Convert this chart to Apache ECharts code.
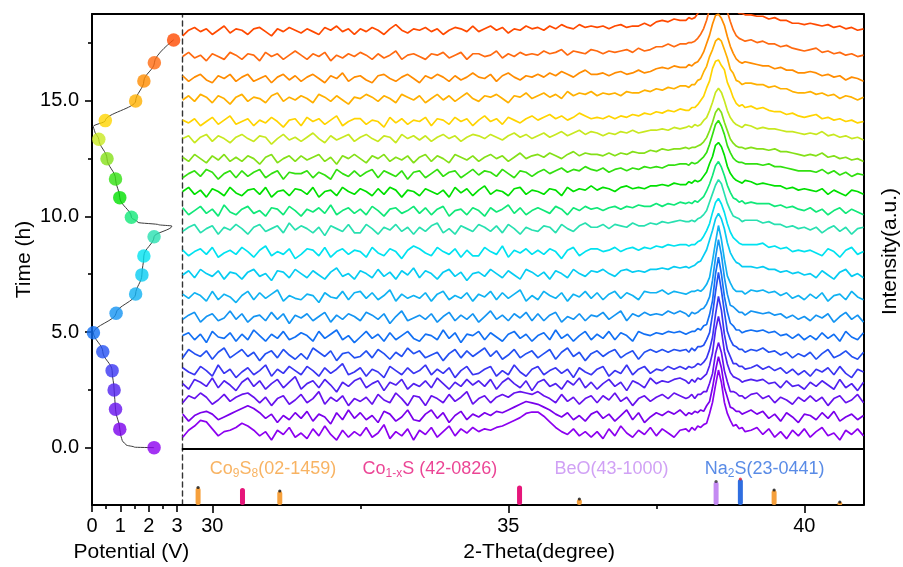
<!DOCTYPE html>
<html>
<head>
<meta charset="utf-8">
<script src="https://cdn.jsdelivr.net/npm/echarts@6/dist/echarts.min.js"></script>
<style>
  html, body { margin: 0; padding: 0; background: #ffffff; }
  #chart { width: 903px; height: 567px; }
</style>
</head>
<body>
<div id="chart"></div>
<script>
const FONT = 'Liberation Sans, Arial, Helvetica, sans-serif';

// Galvanostatic potential trace (V vs. time in h)
const traceTime = [0, 0.02, 0.12, 0.3, 0.5, 0.8, 1.66, 2.49, 3.33, 4.15, 4.97, 5.81, 6.64, 7.47, 8.29, 9.12, 9.58, 9.64, 9.74, 9.96, 10.81, 11.62, 12.49, 13.33, 13.7, 13.88, 14.14, 14.99, 15.85, 16.64, 17.63];
const tracePotential = [2.19, 1.5, 1.2, 1.07, 1.02, 0.98, 0.83, 0.78, 0.71, 0.38, 0.05, 0.85, 1.54, 1.76, 1.83, 2.19, 2.82, 2.35, 1.62, 1.39, 0.98, 0.83, 0.53, 0.24, 0.09, 0.04, 0.47, 1.54, 1.83, 2.2, 2.88];

// State of the cell when each XRD pattern was collected
const scanTime = [0, 0.80, 1.66, 2.49, 3.33, 4.15, 4.97, 5.81, 6.64, 7.47, 8.29, 9.12, 9.96, 10.81, 11.62, 12.49, 13.33, 14.14, 14.99, 15.85, 16.64, 17.63];
const scanPotential = [2.19, 0.98, 0.83, 0.78, 0.71, 0.38, 0.05, 0.85, 1.54, 1.76, 1.83, 2.19, 1.39, 0.98, 0.83, 0.53, 0.24, 0.47, 1.54, 1.83, 2.20, 2.88];
const scanColors = ['#8c00f0', '#7a00ec', '#6612ee', '#5020f0', '#3a34f2', '#2450f2', '#1270f4', '#1494f2', '#10b2f2', '#06ccf2', '#00e2f0', '#28e0b0', '#10e878', '#00e000', '#32e010', '#84e018', '#c8e820', '#ffd400', '#ffb000', '#ff8c00', '#ff6a10', '#ff4a00'];

// Stacking offset of each pattern (a.u.)
const scanOffset = [11.4, 22.9, 35, 45.7, 55, 67.1, 80, 93.6, 108.6, 124.3, 140, 156.4, 169.3, 182.9, 195.7, 206.4, 220.7, 232.9, 249.3, 263.6, 279.3, 297.1];

// 2-theta sampling: 0.1 deg steps, 0.05 deg steps across the 38-39 deg reflection
const thetaGrid = [];
for (let k = 0; k < 85; k++) thetaGrid.push(+(29.5 + 0.1 * k).toFixed(2));
for (let k = 0; k <= 20; k++) thetaGrid.push(+(38 + 0.05 * k).toFixed(2));
for (let k = 1; k <= 20; k++) thetaGrid.push(+(39 + 0.1 * k).toFixed(2));

// Background-subtracted intensities, rows: 29.5-37.9 | 38.00-39.00 | 39.1-41.0
const scan01 = [
  -3, 2, 5, 9, 8, 3, -2, 1, 2, 4,
  7, 5, 2, -2, 1, -5, 2, -1, 4, -3,
  0, -4, 3, -2, 5, -1, -5, 2, -3, 1,
  -2, 4, -3, 0, 6, -4, 1, -2, 3, -5,
  2, -1, 4, -3, 1, 5, -2, 3, 0, 4,
  1, 3, 2, 4, 5, 7, 9, 11, 14, 15,
  15, 12, 8, 4, 1, -1, 3, -2, 1, -3,
  1, -4, 3, -2, 5, 0, -3, 2, -1, 4,
  -2, 3, 0, -3, 2,
  3, 1, 4, 2, 5, 4, 6, 7, 14, 22,
  34, 45, 36, 22, 14, 9, 5, 6, 3, 4, 1,
  2, 4, -1, 3, -3, 1, -4, 2, -2, 3,
  -3, 1, 4, -2, 0, -5, 2, -1, 3, -2
];
const scan02 = [
  2, -3, 1, 3, 4, 2, -2, 0, 2, 4,
  6, 8, 6, 3, -1, 2, -4, 1, -2, 3,
  -1, 4, -3, 2, 0, -5, 3, -2, 5, -1,
  3, -2, 1, -4, 4, 2, -3, 0, 5, -2,
  -3, 2, 5, -1, 3, -4, 1, 4, -2, 2,
  0, 3, 1, 4, 3, 5, 7, 9, 11, 10,
  9, 7, 5, 2, 0, 3, -2, 1, -3, 2,
  4, -1, 2, -3, 1, 5, -2, 3, -4, 0,
  3, 1, 4, 2, 5,
  1, 3, 2, 4, 3, 5, 4, 8, 11, 21,
  33, 43, 35, 21, 14, 7, 6, 4, 4, 2, 3,
  5, 2, 4, -1, 2, -3, 3, 0, -4, 2,
  1, -2, 3, -1, 4, -3, 0, 2, -2, 1
];
const scan03 = [
  -2, 3, 1, 5, 2, -3, 0, 4, -1, 2,
  4, 5, 2, -2, 2, -4, 1, 3, -3, 0,
  4, -2, 1, 6, -3, 2, -1, 3, -4, 1,
  -1, 2, -3, 4, 0, -2, 5, 1, -4, 3,
  2, -4, 3, 1, -2, 4, -1, 2, 6, -3,
  1, 3, -2, 2, 4, 2, 5, 6, 5, 4,
  6, 3, 1, -2, 4, -1, 2, -3, 1, 3,
  -2, 3, 0, 5, -1, 2, -4, 1, 3, -1,
  2, 4, 1, 5, 3,
  1, 2, 4, 1, 4, 4, 6, 6, 12, 19,
  33, 41, 34, 21, 13, 6, 6, 5, 3, 3, 1,
  4, 5, 1, 3, -2, 2, 0, -3, 2, -1,
  3, -1, 2, -4, 1, 3, -2, 0, 4, -2
];
const scan04 = [
  1, -3, 4, 2, -1, 5, -2, 3, 0, -4,
  2, 5, -1, 3, -3, 1, 4, -2, 2, 6,
  -3, 1, 3, -2, 4, 0, -5, 2, -1, 3,
  5, -2, 1, 3, -4, 2, 0, 4, -3, 1,
  -1, 3, -2, 5, 1, -3, 2, -1, 4, 0,
  3, -1, 4, -3, 2, 5, 1, -2, 3, -4,
  2, 4, -1, 1, -3, 3, 0, 5, -2, 2,
  -3, 1, 4, -1, 2, -4, 3, 1, -2, 5,
  1, 3, 2, 4, 5,
  3, 1, 4, 2, 5, 4, 6, 8, 14, 23,
  39, 49, 39, 24, 15, 9, 6, 5, 4, 2, 3,
  4, 3, 4, 1, 2, -2, 3, -1, 0, -3,
  2, -1, 3, 0, -3, 4, -2, 1, -4, 2
];
const scan05 = [
  3, 0, -2, 4, 1, -3, 5, -1, 2, -4,
  0, 3, -2, 1, 5, -3, 2, -1, 4, 1,
  -2, 4, 1, -3, 3, -1, 2, 6, -2, 0,
  3, -3, 2, 0, -4, 4, 1, -2, 3, -1,
  1, 5, -2, 2, -1, 3, -4, 1, 4, -2,
  -1, 2, 4, -3, 1, -2, 5, 0, -3, 2,
  4, -2, 1, 3, -1, 2, -4, 3, 0, -2,
  2, 4, -3, 1, -1, 5, -2, 2, 4, -1,
  2, 1, 4, 2, 4,
  2, 4, 3, 4, 6, 5, 7, 10, 16, 25,
  41, 54, 44, 27, 16, 11, 6, 6, 4, 4, 2,
  3, 5, 2, 4, 1, 3, -1, 2, -2, 1,
  -3, 2, 0, 3, -2, 4, -1, -4, 2, 0
];
const scan06 = [
  -2, 4, 1, -1, 3, -3, 2, 5, -2, 1,
  4, -1, 2, -4, 1, 3, -2, 4, 0, -3,
  1, -3, 5, 2, -1, 3, -4, 1, 2, -2,
  -1, 3, -2, 4, 1, -3, 2, -1, 5, 1,
  3, -2, 0, 2, -4, 1, 4, -2, 3, -1,
  2, 5, -1, 3, -3, 0, 4, -2, 1, 3,
  -2, 1, 4, -3, 2, 5, -1, 2, -4, 1,
  3, -1, 2, 4, -2, 1, 3, -3, 2, 4,
  2, 4, 2, 4, 3,
  4, 2, 5, 3, 6, 6, 7, 11, 16, 29,
  45, 59, 46, 31, 17, 11, 7, 6, 4, 4, 2,
  4, 3, 5, 2, 3, 0, 2, -2, 1, -1,
  2, -3, 1, 4, -2, 0, 3, -1, -3, 2
];
const scan07 = [
  1, 3, -2, 2, -4, 4, 0, -1, 3, -3,
  2, -2, 5, 1, -3, 2, -1, 4, -2, 0,
  3, 1, -3, 4, -1, 2, 5, -2, 1, -4,
  0, 4, -1, 2, -3, 3, -2, 1, 4, -1,
  -3, 2, 1, -2, 5, -1, 3, -4, 2, 1,
  4, -2, 3, 0, -3, 2, 4, -1, 2, -3,
  1, 3, -2, 5, -1, 2, -3, 1, 4, -2,
  2, -1, 4, -2, 3, 1, -3, 4, 2, 1,
  3, 2, 4, 3, 4,
  2, 3, 4, 4, 6, 5, 8, 9, 16, 26,
  45, 57, 45, 29, 18, 10, 8, 5, 5, 3, 4,
  5, 4, 5, 3, 4, 1, 2, -1, 2, -2,
  1, -2, 3, -1, 2, -3, 4, 0, -2, 3
];
const scan08 = [
  -1, 2, 4, -3, 1, 3, -2, 0, 5, -1,
  3, -3, 1, 2, -2, 4, -1, 3, -4, 2,
  0, 3, -2, 1, 4, -3, 2, -1, 3, 1,
  -2, 4, 2, -1, 3, -4, 1, 5, -2, 0,
  2, -1, 3, -3, 1, 4, -2, 2, -1, 3,
  -3, 1, 5, -1, 2, -2, 3, 0, 4, -2,
  3, -2, 2, 4, -3, 1, -1, 3, -2, 2,
  1, 4, -1, 2, 5, -2, 3, 1, 4, 2,
  3, 2, 5, 3, 5,
  3, 1, 4, 3, 4, 6, 7, 10, 15, 27,
  43, 56, 45, 29, 17, 9, 8, 6, 4, 4, 2,
  5, 4, 3, 4, 2, 3, 0, 2, -1, 1,
  -2, 2, 0, 3, -3, 1, 4, -1, 2, -3
];
const scan09 = [
  2, -1, 3, 1, -3, 4, -2, 2, 0, -4,
  1, 4, -2, 3, -1, 2, 5, -3, 1, -1,
  -2, 2, 1, -4, 3, 0, -1, 4, -2, 3,
  4, -1, 3, -2, 1, 5, -3, 2, -1, 1,
  -1, 3, -3, 2, 4, -2, 1, -1, 3, -3,
  2, 0, 4, -2, 3, -1, 2, 5, -3, 1,
  -2, 4, 1, -1, 3, -3, 2, 0, 4, -1,
  3, -2, 2, 4, -1, 3, 1, -2, 4, 3,
  3, 5, 2, 4, 3,
  2, 3, 4, 4, 5, 4, 6, 9, 14, 26,
  39, 51, 41, 27, 15, 10, 6, 4, 4, 4, 2,
  5, 4, 5, 3, 4, 1, 3, -1, 1, -2,
  2, -1, 3, -3, 1, 2, -2, 4, 0, -2
];
const scan10 = [
  0, 3, -2, 4, 1, -1, 3, -3, 2, 1,
  -3, 2, 4, -1, 1, -4, 3, 2, -2, 4,
  1, -2, 3, 0, -3, 2, 5, -1, 1, -3,
  3, 1, -2, 4, -1, 2, -3, 3, 0, 5,
  -2, 3, 1, -3, 2, 4, -1, 2, -4, 1,
  2, -1, 4, 1, -2, 3, 0, -3, 4, 2,
  -1, 2, -3, 3, 1, -2, 4, 1, -1, 3,
  2, 4, 1, -1, 3, 4, 2, 3, 2, 4,
  4, 5, 4, 6, 5,
  6, 5, 6, 7, 9, 10, 14, 18, 25, 32,
  40, 44, 40, 33, 23, 16, 12, 9, 8, 6, 6,
  6, 5, 6, 4, 4, 2, 3, 1, 2, 0,
  1, -2, 3, 0, -3, 2, 4, -1, 1, -2
];
const scan11 = [
  2, -2, 1, 3, -1, 4, -3, 0, 2, -1,
  4, 1, -3, 2, 5, -2, 1, -1, 3, -4,
  -1, 3, 2, -2, 4, -3, 1, 3, -1, 2,
  1, -3, 4, 0, -2, 3, 1, -4, 2, 5,
  3, 0, -2, 4, 1, -1, 3, -3, 2, -2,
  -2, 4, 1, -1, 5, -3, 2, 0, 3, -1,
  2, -1, 3, 1, -4, 2, 4, -2, 1, 3,
  3, 1, 2, 4, 1, 3, 4, 2, 4, 3,
  5, 4, 6, 5, 6,
  6, 5, 6, 6, 8, 9, 12, 16, 21, 29,
  36, 39, 35, 29, 21, 15, 11, 9, 7, 6, 6,
  6, 6, 7, 4, 5, 3, 4, 1, 2, 1,
  2, 0, -2, 3, 1, -3, 2, 4, -1, 1
];
const scan12 = [
  -1, 2, 4, -2, 1, 3, -3, 2, 0, 4,
  1, -3, 2, 4, -1, 1, 3, -2, 5, 0,
  3, 1, -2, 2, -4, 3, 1, -1, 4, -2,
  -2, 4, 1, -3, 2, 0, 4, -1, 2, -3,
  2, -1, 3, 5, -2, 1, -3, 3, 1, -1,
  4, 2, -1, 3, -2, 4, 1, -3, 2, 0,
  -1, 3, 2, -2, 4, 1, -1, 3, 5, 2,
  2, 4, 1, 4, 3, 2, 5, 3, 3, 5,
  4, 6, 5, 6, 7,
  6, 6, 7, 6, 8, 9, 11, 14, 20, 26,
  32, 36, 33, 26, 19, 14, 10, 9, 8, 6, 7,
  7, 7, 5, 6, 4, 4, 2, 3, 1, 2,
  0, 2, -2, 1, 3, -1, 2, -3, 1, 2
];
const scan13 = [
  3, -2, 1, 4, -1, 2, -3, 5, 0, -2,
  2, 4, -1, 1, -3, 3, 2, -2, 4, 1,
  -3, 2, 0, 3, -1, 5, -2, 1, 3, -1,
  2, -2, 4, 1, -3, 2, 3, -1, 1, 4,
  -1, 3, -2, 2, 4, -3, 1, 2, -2, 3,
  1, -3, 3, 0, 2, 5, -1, 3, -2, 1,
  3, 1, -1, 4, 2, -2, 3, 1, 4, 2,
  3, 1, 3, 4, 2, 4, 3, 5, 4, 4,
  6, 4, 6, 5, 7,
  6, 7, 6, 8, 7, 9, 11, 15, 20, 26,
  33, 36, 32, 26, 19, 14, 10, 9, 7, 8, 6,
  7, 6, 6, 6, 4, 5, 3, 4, 2, 1,
  3, 0, 2, -2, 1, 3, -1, 2, 0, -2
];
const scan14 = [
  1, 4, -1, 2, -3, 3, 1, -2, 4, 0,
  -2, 2, 3, -1, 4, -3, 1, 2, -2, 3,
  2, -1, 4, -3, 1, 2, -2, 4, 1, -1,
  3, 1, -2, 3, -1, 4, 2, -3, 2, 1,
  -2, 3, 1, -1, 2, -3, 4, 0, 3, -2,
  2, 5, -1, 2, 1, -2, 3, 4, -1, 2,
  1, -1, 3, 2, -2, 4, 1, 3, 2, 5,
  2, 4, 3, 1, 4, 5, 3, 4, 3, 5,
  5, 6, 5, 7, 6,
  6, 8, 7, 9, 8, 9, 12, 15, 21, 26,
  34, 36, 33, 27, 19, 14, 11, 9, 8, 7, 9,
  8, 6, 7, 6, 5, 5, 3, 4, 2, 3,
  2, 1, 3, -1, 2, 0, -2, 2, 1, -1
];
const scan15 = [
  -2, 1, 3, -1, 4, 2, -3, 1, 3, -2,
  3, -1, 2, 4, -2, 1, 3, -3, 2, 1,
  1, 3, -2, 2, 0, -3, 4, 1, -1, 3,
  -1, 2, 4, -2, 3, 1, -1, 3, -3, 2,
  3, -2, 1, 4, -1, 2, 3, -2, 1, 4,
  0, 3, 2, -1, 4, 1, -2, 3, 2, -1,
  2, 4, 1, 3, 5, 2, 4, 3, 6, 4,
  3, 5, 2, 4, 5, 3, 5, 4, 6, 5,
  6, 5, 7, 7, 8,
  8, 7, 9, 8, 9, 11, 13, 16, 22, 29,
  36, 39, 35, 29, 21, 16, 12, 10, 9, 9, 8,
  8, 8, 7, 8, 6, 6, 5, 4, 3, 3,
  3, 2, 4, 1, 3, 0, 2, -1, 1, 0
];
const scan16 = [
  2, -1, 4, 1, -2, 3, 0, 4, -1, 2,
  -1, 3, 1, -3, 2, 4, -2, 1, 3, -1,
  3, 0, 2, 4, -1, 2, -3, 3, 1, 4,
  1, -2, 3, 1, 4, -1, 2, 0, 3, -2,
  2, 4, -1, 3, 1, -2, 4, 2, 0, 3,
  -1, 2, 4, 1, 3, -1, 2, 5, 1, 3,
  4, 2, 5, 3, 1, 4, 6, 3, 5, 4,
  4, 3, 5, 3, 5, 4, 6, 5, 5, 7,
  6, 8, 7, 8, 8,
  9, 8, 9, 9, 10, 11, 13, 16, 21, 27,
  34, 37, 34, 27, 21, 15, 12, 10, 9, 9, 8,
  9, 8, 8, 7, 8, 6, 6, 5, 4, 3,
  4, 3, 5, 2, 3, 1, 2, 0, 1, -1
];
const scan17 = [
  1, 3, -2, 2, 4, -1, 3, 1, -2, 2,
  4, 1, -1, 3, 2, -3, 1, 4, 0, 2,
  -1, 2, 5, 1, -2, 3, 0, 2, 4, -1,
  2, 4, 1, -1, 3, 2, -2, 4, 1, 3,
  0, 3, -1, 2, 4, 1, 3, -1, 2, 4,
  3, 1, 4, 2, 0, 3, 5, 2, 4, 1,
  3, 5, 2, 4, 6, 3, 5, 7, 4, 6,
  5, 3, 5, 4, 6, 5, 7, 5, 6, 7,
  7, 8, 7, 9, 8,
  9, 10, 9, 11, 10, 11, 14, 16, 21, 27,
  34, 37, 34, 28, 21, 16, 13, 11, 10, 9, 11,
  10, 8, 9, 8, 8, 7, 6, 6, 5, 4,
  5, 4, 6, 3, 4, 2, 3, 1, 2, 0
];
const scan18 = [
  2, 0, 3, -2, 1, 4, -1, 2, 5, -1,
  1, 3, -2, 2, 0, 4, 1, -3, 2, 3,
  -2, 4, 1, 3, -1, 2, 5, -2, 1, 3,
  3, -1, 2, 1, -3, 4, 0, 3, -1, 2,
  1, 4, -2, 3, 2, -1, 4, 1, 3, -2,
  2, 5, 1, 3, -1, 4, 2, 0, 3, 5,
  2, 4, 6, 3, 5, 2, 4, 7, 5, 3,
  4, 3, 5, 3, 5, 4, 6, 5, 7, 6,
  8, 7, 9, 8, 10,
  9, 9, 11, 11, 13, 16, 19, 25, 30, 39,
  44, 45, 41, 38, 29, 24, 18, 14, 12, 13, 11,
  12, 10, 11, 9, 8, 8, 6, 7, 5, 4,
  5, 6, 3, 4, 2, 3, 1, 2, 0, 1
];
const scan19 = [
  0, 3, -1, 4, 2, -2, 3, 1, -3, 2,
  4, -1, 2, 1, -2, 3, 5, -1, 2, 0,
  3, 1, -2, 4, 2, -1, 3, 0, -3, 2,
  1, 4, 2, -1, 3, 1, -2, 4, 2, 0,
  3, -2, 1, 4, 0, 3, -1, 2, 5, 1,
  -1, 3, 2, 4, 1, -2, 3, 2, 5, 1,
  3, 5, 2, 4, 1, 6, 3, 5, 4, 6,
  3, 5, 4, 5, 3, 6, 5, 5, 7, 6,
  8, 7, 9, 8, 10,
  10, 9, 11, 11, 14, 15, 20, 24, 31, 36,
  42, 44, 42, 36, 30, 22, 19, 14, 13, 11, 12,
  12, 11, 11, 9, 10, 8, 8, 6, 5, 5,
  6, 4, 5, 3, 4, 1, 3, 2, 0, 2
];
const scan20 = [
  3, -1, 2, 4, 0, -2, 3, 1, 4, -1,
  2, 4, -1, 1, 3, -2, 2, 4, 0, 3,
  -1, 2, 4, 1, -2, 3, 1, 5, -1, 2,
  3, 0, -2, 3, 4, 1, -1, 2, 4, 1,
  -2, 3, 1, 4, 2, -1, 3, 0, 2, 5,
  2, 1, 4, -1, 3, 5, 2, 0, 3, 2,
  4, 2, 5, 3, 6, 4, 2, 5, 7, 4,
  4, 5, 3, 5, 6, 4, 5, 7, 5, 6,
  8, 9, 8, 10, 9,
  9, 11, 10, 12, 13, 16, 20, 26, 32, 40,
  46, 47, 44, 39, 31, 24, 19, 15, 13, 12, 13,
  12, 11, 10, 10, 8, 9, 7, 7, 5, 5,
  6, 5, 3, 4, 2, 3, 0, 2, 1, -1
];
const scan21 = [
  1, 4, 0, 2, -2, 3, 1, -1, 4, 2,
  -1, 3, 2, -2, 4, 1, 3, -1, 2, 5,
  2, -1, 3, 1, 4, -2, 2, 0, 3, 1,
  4, 2, -1, 3, 0, 2, 5, -1, 2, 3,
  1, -1, 3, 2, 4, 0, 2, 4, -1, 3,
  3, 1, 2, 5, 0, 3, 1, 4, 2, 3,
  2, 5, 3, 4, 6, 2, 5, 4, 3, 6,
  5, 3, 5, 4, 5, 6, 4, 7, 5, 6,
  8, 8, 10, 8, 10,
  10, 11, 11, 12, 14, 17, 21, 27, 35, 41,
  49, 50, 46, 41, 33, 26, 20, 16, 14, 13, 12,
  13, 11, 12, 10, 10, 8, 9, 7, 6, 5,
  6, 7, 4, 5, 3, 4, 2, 3, 1, 2
];
const scan22 = [
  -2, 2, 4, 1, 3, -1, 2, 5, 0, 3,
  2, -1, 3, 4, 1, -2, 3, 1, 4, 2,
  0, 3, 1, -1, 4, 2, 5, 1, 3, -1,
  3, 1, 4, 2, -1, 3, 6, 2, 0, 3,
  2, 4, 1, 3, -1, 2, 4, 3, 1, 5,
  1, 3, 5, 2, 4, 0, 3, 2, 5, 3,
  4, 2, 5, 3, 6, 4, 3, 6, 4, 5,
  4, 5, 3, 5, 6, 4, 5, 5, 7, 5,
  8, 9, 8, 10, 9,
  9, 11, 10, 11, 14, 16, 22, 28, 36, 44,
  49, 51, 48, 43, 34, 26, 21, 16, 14, 14, 13,
  13, 12, 12, 10, 11, 9, 9, 7, 7, 6,
  7, 6, 5, 6, 4, 5, 3, 4, 2, 3
];
const scans = [scan01, scan02, scan03, scan04, scan05, scan06, scan07, scan08, scan09, scan10, scan11,
  scan12, scan13, scan14, scan15, scan16, scan17, scan18, scan19, scan20, scan21, scan22];

// Standard reference patterns (2-theta, relative height, phase index)
const refTheta = [29.76, 30.51, 31.14, 35.19, 36.20, 38.51, 38.92, 39.49, 40.60];
const refHeight = [17.5, 17, 14, 19.5, 6, 23.5, 26, 15, 3];
const refPhase = [0, 1, 0, 1, 0, 2, 3, 0, 0];
const phaseNames = ['Co{s|9}S{s|8}(02-1459)', 'Co{s|1-x}S (42-0826)', 'BeO(43-1000)', 'Na{s|2}S(23-0441)'];
const phaseColors = ['#f6a03c', '#e6167a', '#c48af2', '#2f6ee0'];
const phaseDotColors = ['#111111', null, '#333333', '#e8202a'];
const phaseLabelTheta = [29.95, 32.53, 35.77, 38.31];
const phaseLabelLevel = 36;

// Axis ticks
const potentialTicks = [0, 1, 2, 3];
const potentialMinorTicks = [0.5, 1.5, 2.5];
const timeTicks = [0, 5, 10, 15];
const timeMinorTicks = [2.5, 7.5, 12.5, 17.5];
const thetaTicks = [30, 35, 40];
const thetaMinorTicks = [32.5, 37.5];

scans.forEach((row, i) => {
  if (row.length !== thetaGrid.length) console.error('scan ' + (i + 1) + ' has ' + row.length + ' points');
});

const BLACK = '#000000';
const frameLine = { show: true, onZero: false, lineStyle: { color: BLACK, width: 2 } };
const dashLine = { show: true, onZero: false, lineStyle: { color: '#333333', width: 1.4, type: [5, 4] } };

function axis(extra) {
  return Object.assign({
    type: 'value',
    axisLine: frameLine,
    axisTick: { show: false },
    axisLabel: { show: false },
    splitLine: { show: false }
  }, extra);
}
function minorAxis(extra, values) {
  return axis(Object.assign({
    axisLine: { show: false, onZero: false },
    axisTick: { show: true, length: 4, customValues: values, lineStyle: { color: BLACK, width: 1.6 } }
  }, extra));
}

const tickLabel = { show: true, color: BLACK, fontSize: 20, fontFamily: FONT };
const nameStyle = { color: BLACK, fontSize: 21, fontFamily: FONT };

const xAxes = [
  // 0: potential (bottom)
  axis({ gridIndex: 0, position: 'bottom', min: 0, max: 3.2,
    axisTick: { show: true, length: 7, customValues: potentialTicks, lineStyle: { color: BLACK, width: 1.6 } },
    axisLabel: Object.assign({ customValues: potentialTicks, margin: 11 }, tickLabel),
    name: 'Potential (V)', nameLocation: 'middle', nameGap: 37,
    nameTextStyle: Object.assign({ padding: [0, 12, 0, 0] }, nameStyle) }),
  // 1: potential minor ticks
  minorAxis({ gridIndex: 0, position: 'bottom', min: 0, max: 3.2 }, potentialMinorTicks),
  // 2: top frame over the potential panel
  axis({ gridIndex: 0, position: 'top', min: 0, max: 3.2 }),
  // 3: XRD panel baseline
  axis({ gridIndex: 1, position: 'bottom', min: 29.5, max: 41 }),
  // 4: top frame over the XRD panel
  axis({ gridIndex: 1, position: 'top', min: 29.5, max: 41 }),
  // 5: 2-theta axis under the reference sticks
  axis({ gridIndex: 2, position: 'bottom', min: 29.5, max: 41,
    axisTick: { show: true, length: 8, customValues: thetaTicks, lineStyle: { color: BLACK, width: 1.6 } },
    axisLabel: Object.assign({ customValues: thetaTicks, margin: 11 }, tickLabel),
    name: '2-Theta(degree)', nameLocation: 'middle', nameGap: 37,
    nameTextStyle: Object.assign({ padding: [0, 0, 0, 32] }, nameStyle) }),
  // 6: 2-theta minor ticks
  minorAxis({ gridIndex: 2, position: 'bottom', min: 29.5, max: 41 }, thetaMinorTicks)
];

const yAxes = [
  // 0: time
  axis({ gridIndex: 0, position: 'left', min: -2.48, max: 18.75,
    axisTick: { show: true, length: 7, customValues: timeTicks, lineStyle: { color: BLACK, width: 1.6 } },
    axisLabel: Object.assign({ customValues: timeTicks, margin: 13, formatter: v => v.toFixed(1) }, tickLabel),
    name: 'Time (h)', nameLocation: 'middle', nameGap: 57, nameRotate: 90, nameTextStyle: nameStyle }),
  // 1: time minor ticks
  minorAxis({ gridIndex: 0, position: 'left', min: -2.48, max: 18.75 }, timeMinorTicks),
  // 2: XRD intensity, dashed divider on the left
  axis({ gridIndex: 1, position: 'left', min: 0, max: 310.7, axisLine: dashLine }),
  // 3: right frame with the intensity title
  axis({ gridIndex: 1, position: 'right', min: 0, max: 310.7,
    name: 'Intensity(a.u.)', nameLocation: 'middle', nameGap: 16, nameRotate: 90,
    nameTextStyle: Object.assign({ padding: [0, 40, 0, 0] }, nameStyle) }),
  // 4: reference stick heights, dashed divider on the left
  axis({ gridIndex: 2, position: 'left', min: 0, max: 56, axisLine: dashLine }),
  // 5: right frame of the reference strip
  axis({ gridIndex: 2, position: 'right', min: 0, max: 56 })
];

const xrdSeries = scans.map((row, s) => ({
  type: 'line',
  xAxisIndex: 3,
  yAxisIndex: 2,
  data: row.slice(0, thetaGrid.length).map((v, k) => [thetaGrid[k], scanOffset[s] + v]),
  showSymbol: false,
  symbol: 'none',
  lineStyle: { color: scanColors[s], width: 1.7 },
  z: 2,
  silent: true
}));

const dotData = [];
refTheta.forEach((t, i) => {
  const c = phaseDotColors[refPhase[i]];
  if (c) dotData.push({ value: [t, refHeight[i]], itemStyle: { color: c } });
});

const option = {
  animation: false,
  backgroundColor: '#ffffff',
  textStyle: { fontFamily: FONT },
  grid: [
    { left: 92, top: 14, width: 90.7, height: 491, outerBoundsMode: 'none' },
    { left: 182.7, top: 14, width: 680.8, height: 435, outerBoundsMode: 'none' },
    { left: 182.7, top: 449, width: 680.8, height: 56, outerBoundsMode: 'none' }
  ],
  xAxis: xAxes,
  yAxis: yAxes,
  series: [
    {
      type: 'line',
      xAxisIndex: 0,
      yAxisIndex: 0,
      data: traceTime.map((t, i) => [tracePotential[i], t]),
      smooth: 0.35,
      smoothMonotone: 'y',
      showSymbol: false,
      symbol: 'none',
      clip: false,
      lineStyle: { color: '#3c3c3c', width: 1 },
      z: 2,
      silent: true
    },
    {
      type: 'scatter',
      xAxisIndex: 0,
      yAxisIndex: 0,
      symbolSize: 13.5,
      clip: false,
      data: scanTime.map((t, i) => ({ value: [scanPotential[i], t], itemStyle: { color: scanColors[i] } })),
      z: 3
    },
    ...xrdSeries,
    {
      type: 'bar',
      xAxisIndex: 5,
      yAxisIndex: 4,
      barWidth: 5,
      data: refTheta.map((t, i) => ({
        value: [t, refHeight[i]],
        itemStyle: { color: phaseColors[refPhase[i]], borderRadius: 2.5 }
      })),
      z: 2
    },
    {
      type: 'scatter',
      xAxisIndex: 5,
      yAxisIndex: 4,
      symbolSize: 3.2,
      data: dotData,
      z: 3
    },
    {
      type: 'scatter',
      xAxisIndex: 5,
      yAxisIndex: 4,
      symbolSize: 1,
      itemStyle: { color: 'rgba(0,0,0,0)' },
      data: phaseLabelTheta.map((t, i) => ({
        value: [t, phaseLabelLevel],
        label: { formatter: phaseNames[i], color: phaseColors[i] }
      })),
      label: {
        show: true,
        position: 'right',
        distance: 0,
        fontSize: 18,
        fontFamily: FONT,
        rich: { s: { fontSize: 12, fontFamily: FONT, padding: [9, 0, 0, 0] } }
      },
      z: 4,
      silent: true
    }
  ]
};

const chart = echarts.init(document.getElementById('chart'), null, { renderer: 'canvas' });
chart.setOption(option);
</script>
</body>
</html>
